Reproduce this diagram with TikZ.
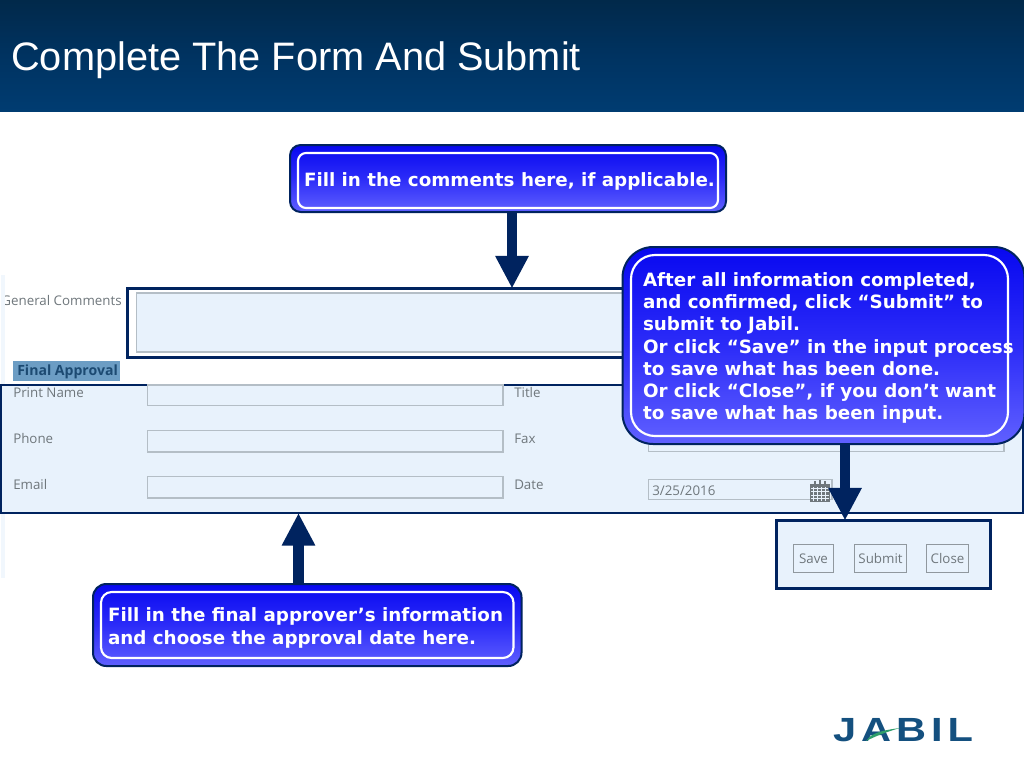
\documentclass[tikz,border=0pt]{standalone}
\usepackage{fontspec}
\setmainfont{Liberation Sans}
\newfontfamily\calloutfont{DejaVu Sans}
\newfontfamily\formfont{Open Sans}
\usetikzlibrary{arrows.meta,calc}
\definecolor{navy}{HTML}{00235F}
\definecolor{panel}{HTML}{E8F2FC}
\definecolor{fieldline}{HTML}{B4BEC6}
\definecolor{formgray}{HTML}{6F777C}
\definecolor{HLblue}{HTML}{6C9DC4}
\definecolor{hltext}{HTML}{1C4A72}
\definecolor{logoblue}{HTML}{14507F}
\definecolor{logoswoosh}{HTML}{2E9E6B}
\definecolor{calltop}{HTML}{0808F0}
\definecolor{callmid}{HTML}{2C2CF8}
\definecolor{callbot}{HTML}{6060FF}
\pgfdeclareverticalshading{barshade}{100bp}{
  rgb(0bp)=(0,0.271,0.51);
  rgb(50bp)=(0,0.2,0.38);
  rgb(87bp)=(0.008,0.141,0.247);
  rgb(100bp)=(0.05,0.19,0.31)
}
\tikzset{
  sz/.style 2 args={minimum width=#1*0.75pt,minimum height=#2*0.75pt,inner sep=0pt,outer sep=0pt,anchor=north west},
  callout/.style={draw=navy,line width=1.5pt,top color=calltop,bottom color=callbot,middle color=callmid},
  calloutinner/.style={draw=white,line width=1.6pt},
  calltext/.style={font=\calloutfont\bfseries\fontsize{13.73pt}{16.65pt}\selectfont,text=white,align=left,anchor=north west,inner sep=0pt,outer sep=0pt},
  panelbox/.style={draw=navy,line width=1.7pt,fill=panel},
  whitebox/.style={draw=navy,line width=2.2pt,fill=white},
  field/.style={draw=fieldline,line width=1pt,fill=panel},
  formlabel/.style={font=\formfont\fontsize{10pt}{12pt}\selectfont,text=formgray,inner sep=0pt,anchor=base west},
  blockarrow/.style={draw=navy,line width=8pt,-{Triangle[length=24.5pt,width=23.5pt]}},
  btn/.style={draw=fieldline!80!black,line width=.9pt,fill=panel,font=\formfont\fontsize{10pt}{12pt}\selectfont,text=formgray},
}
\begin{document}
\begin{tikzpicture}[x=0.75pt,y=-0.75pt]
\useasboundingbox (0,0) rectangle (1024,768);
\fill[white] (0,0) rectangle (1024,768);
% header
\node (bar) at (0,0) [sz={1024}{111.5},shading=barshade] {};
\node (title) at (11,70.5) [anchor=base west,inner sep=0pt,text=white,font=\fontsize{29.8pt}{32pt}\selectfont] {Complete The Form And Submit};
% faint page edge of the screenshot
\fill[panel!60!white] (1,275) rectangle (5,578);
% general comments
\begin{scope}
\clip (5,285) rectangle (127,320);
\node (gc) at (122,305) [formlabel,anchor=base east] {General Comments};
\end{scope}
\node (cbox) at (127.5,288.5) [sz={520}{69},whitebox] {};
\node (carea) at (136.5,293) [sz={500}{59},field] {};
% final approval
\node (fa) at (13,361) [sz={107}{20},fill=HLblue,draw=none] {};
\node (falabel) at (17,375) [anchor=base west,inner sep=0pt,font=\formfont\bfseries\fontsize{10.55pt}{12pt}\selectfont,text=hltext] {Final Approval};
% form panel
\node (form) at (0.5,385) [sz={1023}{128},panelbox] {};
\node (f1) at (147.5,385) [sz={355.5}{20.5},field] {};
\node (f2) at (147.5,430.5) [sz={355.5}{21.5},field] {};
\node (f3) at (147.5,476.5) [sz={355.5}{21.5},field] {};
\node (f4) at (648.5,385) [sz={355.5}{20.5},field] {};
\node (f5) at (648.5,430.5) [sz={355.5}{21},field] {};
\node (f6) at (648.5,479.5) [sz={183.5}{20},field] {};
\node (lname) at (13,397) [formlabel] {Print Name};
\node (lphone) at (13,443) [formlabel] {Phone};
\node (lemail) at (13,489) [formlabel] {Email};
\node (ltitle) at (514,397) [formlabel] {Title};
\node (lfax) at (514,443) [formlabel] {Fax};
\node (ldate) at (514,489) [formlabel] {Date};
\node (dateval) at (652,495) [formlabel] {3/25/2016};
% calendar icon
\fill[formgray] (810,484) rectangle (830,502);
\foreach \cx in {813.5,817.5,821.5,825.5}{\draw[panel,line width=.5pt] (\cx,487) -- (\cx,501);}
\foreach \cy in {488,491.5,495,498.5}{\draw[panel,line width=.5pt] (811,\cy) -- (829,\cy);}
\draw[formgray,line width=1pt] (815,481) -- (815,485) (820,480) -- (820,485) (825,481) -- (825,485);
% buttons
\node (sbox) at (776.5,520.5) [sz={214}{68},panelbox,line width=2.2pt] {};
\node (bsave) at (793.5,544.5) [sz={40}{28},btn] {Save};
\node (bsubmit) at (854.5,544.5) [sz={52}{28},btn] {Submit};
\node (bclose) at (926.5,544.5) [sz={42}{28},btn] {Close};
% callouts
\node (c1) at (290,145) [sz={436}{67},callout,rounded corners=8pt] {};
\node (c1i) at (298,153) [sz={420}{55},calloutinner,rounded corners=6pt] {};
\node (c1t) at (304,172.5) [calltext] {Fill in the comments here, if applicable.};
\node (c2) at (622.5,247) [sz={402}{197},callout,rounded corners=23pt] {};
\node (c2i) at (631,255) [sz={377}{181},calloutinner,rounded corners=18pt] {};
\node (c2t) at (643,272.5) [calltext] {After all information completed,\\and confirmed, click “Submit” to\\submit to Jabil.\\Or click “Save” in the input process\\to save what has been done.\\Or click “Close”, if you don’t want\\to save what has been input.};
\node (c3) at (93,584) [sz={428.5}{82},callout,rounded corners=10pt] {};
\node (c3i) at (101,592) [sz={412.5}{66},calloutinner,rounded corners=8pt] {};
\node (c3t) at (108,608) [calltext] {Fill in the final approver’s information\\and choose the approval date here.};
% connectors
\coordinate (a1) at (512,0);
\coordinate (a2) at (298.5,0);
\coordinate (a3) at (845,0);
\draw[blockarrow] (c1.south -| a1) -- (cbox.north -| a1);
\draw[blockarrow] (c3.north -| a2) -- (form.south -| a2);
\draw[blockarrow] (c2.south -| a3) -- (sbox.north -| a3);
% logo
\node (logo) at (903,730) [inner sep=0pt,text=logoblue] {\resizebox{105pt}{17.3pt}{\bfseries\addfontfeature{LetterSpace=12}JABIL}};
\fill[logoswoosh] (866,741) .. controls (870,735) and (876,731) .. (900,728) .. controls (886,732) and (876,736) .. cycle;
\end{tikzpicture}
\end{document}
